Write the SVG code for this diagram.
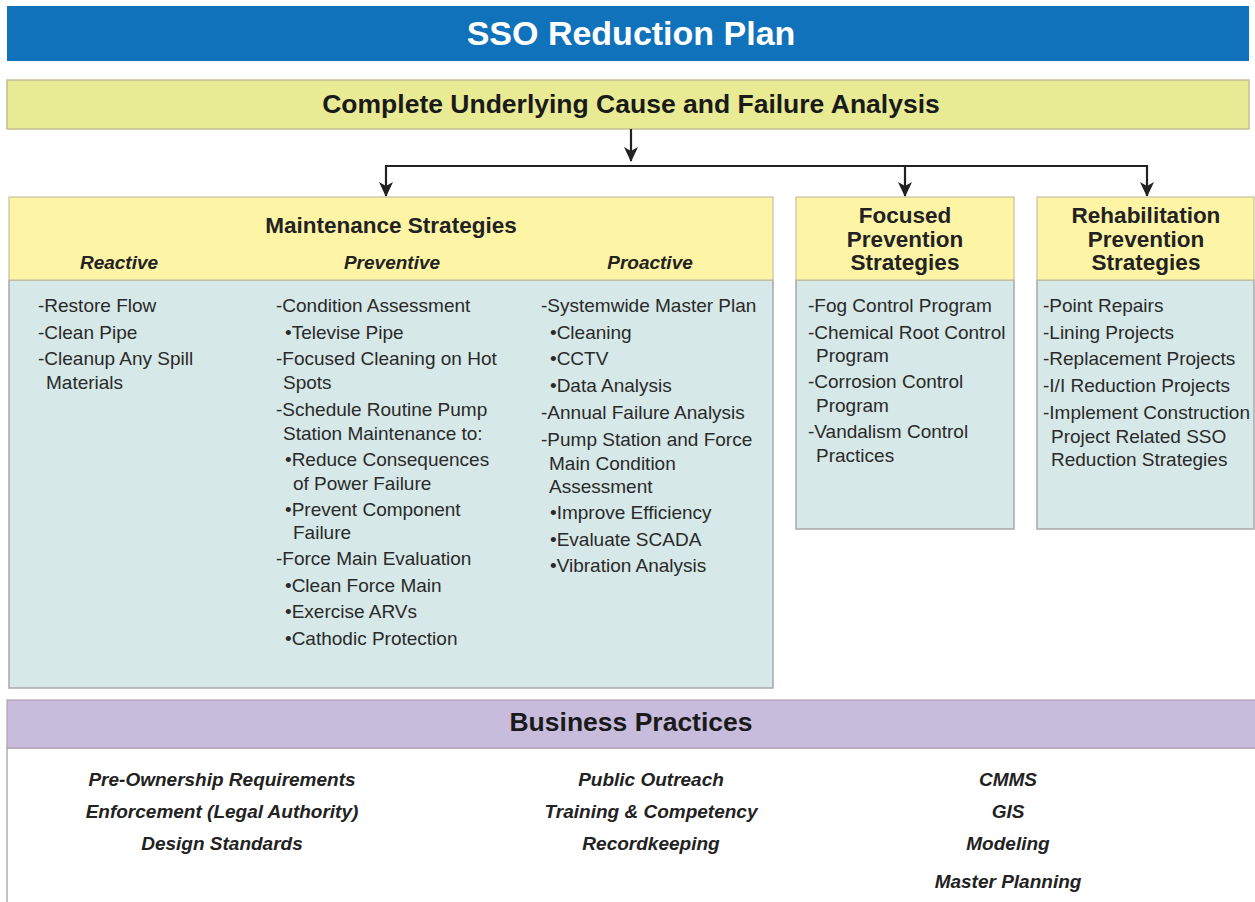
<svg xmlns="http://www.w3.org/2000/svg" width="1255" height="902" viewBox="0 0 1255 902">
<defs>
<marker id="arr" markerWidth="15" markerHeight="14" refX="14" refY="7" orient="auto" markerUnits="userSpaceOnUse" viewBox="0 0 15 14">
<path d="M0,0 L15,7 L0,14 L4,7 Z" fill="#222"/>
</marker>
<style>
text{font-family:"Liberation Sans",Arial,sans-serif;fill:#222}
.title{font-size:34px;font-weight:bold;fill:#fff;text-anchor:middle}
.h1{font-size:26.5px;font-weight:bold;text-anchor:middle;fill:#1a1a1a}
.h2{font-size:22.5px;font-weight:bold;text-anchor:middle}
.sub{font-size:19px;font-weight:bold;font-style:italic;text-anchor:middle}
.b{font-size:19px;fill:#2a2a2a}
.bp{font-size:19px;font-weight:bold;font-style:italic;text-anchor:middle}
.yhead{fill:#fdf4a6;stroke:#c8c0a0;stroke-width:1.2}
.body{fill:#d6e8e7;stroke:#a8a8a8;stroke-width:1.5}
.conn{fill:none;stroke:#222;stroke-width:2.2}
</style>
</defs>
<rect x="0" y="0" width="1255" height="902" fill="#fff"/>

<g id="header">
<rect x="7" y="6" width="1242" height="55" fill="#1072ba"/>
<text class="title" x="631" y="45">SSO Reduction Plan</text>
</g>

<g id="analysis">
<rect x="7" y="80" width="1242" height="49" fill="#e9ea94" stroke="#c4bc96" stroke-width="1.5"/>
<text class="h1" x="631" y="113">Complete Underlying Cause and Failure Analysis</text>
</g>

<g id="connectors">
<line class="conn" x1="631" y1="129" x2="631" y2="161" marker-end="url(#arr)"/>
<line class="conn" x1="385" y1="166" x2="1148" y2="166"/>
<line class="conn" x1="386" y1="165" x2="386" y2="196" marker-end="url(#arr)"/>
<line class="conn" x1="905" y1="165" x2="905" y2="196" marker-end="url(#arr)"/>
<line class="conn" x1="1147" y1="165" x2="1147" y2="196" marker-end="url(#arr)"/>
</g>

<g id="maintenance">
<rect class="body" x="9" y="280" width="764" height="408"/>
<rect class="yhead" x="9" y="197" width="764" height="83"/>
<text class="h2" x="391" y="233">Maintenance Strategies</text>
<text class="sub" x="119" y="269">Reactive</text>
<text class="sub" x="392" y="269">Preventive</text>
<text class="sub" x="650" y="269">Proactive</text>
<text class="b">
<tspan x="38" y="312">-Restore Flow</tspan>
<tspan x="38" y="339">-Clean Pipe</tspan>
<tspan x="38" y="365">-Cleanup Any Spill</tspan>
<tspan x="46" y="389">Materials</tspan>
</text>
<text class="b">
<tspan x="276" y="312">-Condition Assessment</tspan>
<tspan x="285" y="339">•Televise Pipe</tspan>
<tspan x="276" y="365">-Focused Cleaning on Hot</tspan>
<tspan x="283" y="389">Spots</tspan>
<tspan x="276" y="416">-Schedule Routine Pump</tspan>
<tspan x="283" y="440">Station Maintenance to:</tspan>
<tspan x="285" y="466">•Reduce Consequences</tspan>
<tspan x="293" y="490">of Power Failure</tspan>
<tspan x="285" y="516">•Prevent Component</tspan>
<tspan x="293" y="539">Failure</tspan>
<tspan x="276" y="565">-Force Main Evaluation</tspan>
<tspan x="285" y="592">•Clean Force Main</tspan>
<tspan x="285" y="618">•Exercise ARVs</tspan>
<tspan x="285" y="645">•Cathodic Protection</tspan>
</text>
<text class="b">
<tspan x="541" y="312">-Systemwide Master Plan</tspan>
<tspan x="550" y="339">•Cleaning</tspan>
<tspan x="550" y="365">•CCTV</tspan>
<tspan x="550" y="392">•Data Analysis</tspan>
<tspan x="541" y="419">-Annual Failure Analysis</tspan>
<tspan x="541" y="446">-Pump Station and Force</tspan>
<tspan x="549" y="470">Main Condition</tspan>
<tspan x="549" y="493">Assessment</tspan>
<tspan x="550" y="519">•Improve Efficiency</tspan>
<tspan x="550" y="546">•Evaluate SCADA</tspan>
<tspan x="550" y="572">•Vibration Analysis</tspan>
</text>
</g>

<g id="focused">
<rect class="body" x="796" y="280" width="218" height="249"/>
<rect class="yhead" x="796" y="197" width="218" height="83"/>
<text class="h2" x="905" y="223">Focused</text>
<text class="h2" x="905" y="247">Prevention</text>
<text class="h2" x="905" y="270">Strategies</text>
<text class="b">
<tspan x="808" y="312">-Fog Control Program</tspan>
<tspan x="808" y="339">-Chemical Root Control</tspan>
<tspan x="816" y="362">Program</tspan>
<tspan x="808" y="388">-Corrosion Control</tspan>
<tspan x="816" y="412">Program</tspan>
<tspan x="808" y="438">-Vandalism Control</tspan>
<tspan x="816" y="462">Practices</tspan>
</text>
</g>

<g id="rehab">
<rect class="body" x="1037" y="280" width="217" height="249"/>
<rect class="yhead" x="1037" y="197" width="217" height="83"/>
<text class="h2" x="1146" y="223">Rehabilitation</text>
<text class="h2" x="1146" y="247">Prevention</text>
<text class="h2" x="1146" y="270">Strategies</text>
<text class="b">
<tspan x="1043" y="312">-Point Repairs</tspan>
<tspan x="1043" y="339">-Lining Projects</tspan>
<tspan x="1043" y="365">-Replacement Projects</tspan>
<tspan x="1043" y="392">-I/I Reduction Projects</tspan>
<tspan x="1043" y="419">-Implement Construction</tspan>
<tspan x="1051" y="443">Project Related SSO</tspan>
<tspan x="1051" y="466">Reduction Strategies</tspan>
</text>
</g>

<g id="business">
<rect x="7" y="748" width="1250" height="160" fill="#fff" stroke="#b0b0b0" stroke-width="1.5"/>
<rect x="7" y="700" width="1250" height="48" fill="#c8bcdc" stroke="#b0a0b0" stroke-width="1.2"/>
<text class="h1" x="631" y="731">Business Practices</text>
<text class="bp" x="222" y="786">Pre-Ownership Requirements</text>
<text class="bp" x="222" y="818">Enforcement (Legal Authority)</text>
<text class="bp" x="222" y="850">Design Standards</text>
<text class="bp" x="651" y="786">Public Outreach</text>
<text class="bp" x="651" y="818">Training &amp; Competency</text>
<text class="bp" x="651" y="850">Recordkeeping</text>
<text class="bp" x="1008" y="786">CMMS</text>
<text class="bp" x="1008" y="818">GIS</text>
<text class="bp" x="1008" y="850">Modeling</text>
<text class="bp" x="1008" y="888">Master Planning</text>
</g>
</svg>
